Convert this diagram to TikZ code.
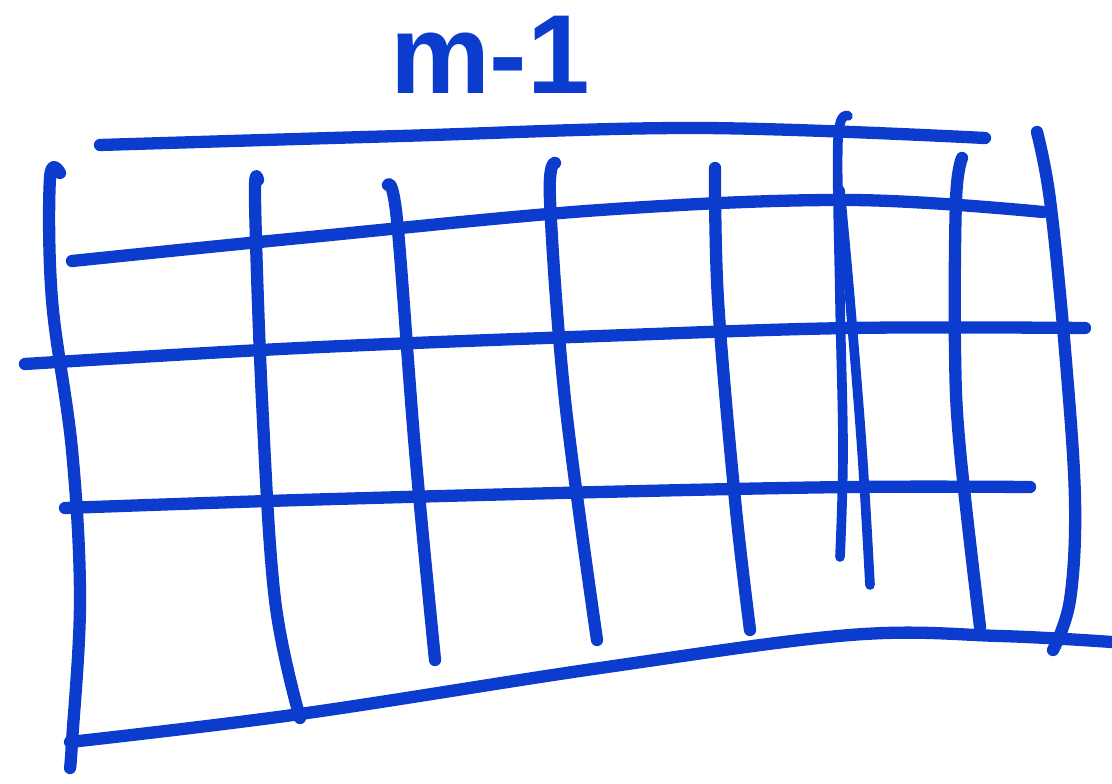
\documentclass[tikz,border=0pt]{standalone}
\usepackage{fontspec}
\setmainfont{Liberation Sans}
\definecolor{ink}{RGB}{12,60,205}
\begin{document}
\begin{tikzpicture}[x=0.02cm,y=-0.02cm,
  pen/.style={draw=ink,line width=7pt,line cap=round,line join=round},
  thin pen/.style={pen,line width=5.5pt}]
\useasboundingbox (0,0) rectangle (1112,784);
% label
\node[text=ink,font=\bfseries\fontsize{64}{64}\selectfont,inner sep=0pt] (lbl) at (490,55) {m-1};
% top line
\draw[pen] plot[smooth,tension=0.6] coordinates {(100,145) (400,136) (700,128) (985,138)};
% horizontal lines
\draw[pen] plot[smooth,tension=0.6] coordinates {(72,261) (300,238) (600,210) (850,200) (1043,212)};
\draw[pen] plot[smooth,tension=0.6] coordinates {(25,364) (300,348) (600,336) (850,328) (1085,328)};
\draw[pen] plot[smooth,tension=0.6] coordinates {(65,508) (300,500) (600,492) (850,487) (1030,487)};
\draw[pen] plot[smooth,tension=0.6] coordinates {(70,742) (300,714) (600,668) (850,635) (1000,636) (1112,642)};
% vertical lines
\draw[pen] plot[smooth,tension=0.6] coordinates {(60,173) (50,178) (52,300) (72,450) (80,600) (72,742) (70,768)};
\draw[pen] plot[smooth,tension=0.6] coordinates {(258,180) (255,200) (262,400) (275,600) (300,718)};
\draw[pen] plot[smooth,tension=0.6] coordinates {(388,185) (397,220) (415,450) (435,660)};
\draw[pen] plot[smooth,tension=0.6] coordinates {(555,163) (550,200) (565,400) (597,640)};
\draw[pen] plot[smooth,tension=0.6] coordinates {(715,168) (718,300) (735,500) (750,630)};
\draw[thin pen] plot[smooth,tension=0.6] coordinates {(848,116) (838,140) (840,300) (843,450) (840,557)};
\draw[thin pen] plot[smooth,tension=0.6] coordinates {(840,190) (850,300) (862,450) (870,585)};
\draw[pen] plot[smooth,tension=0.6] coordinates {(962,158) (956,200) (955,350) (960,450) (980,627)};
\draw[pen] plot[smooth,tension=0.6] coordinates {(1037,132) (1050,200) (1065,350) (1075,500) (1070,600) (1053,650)};
\end{tikzpicture}
\end{document}
